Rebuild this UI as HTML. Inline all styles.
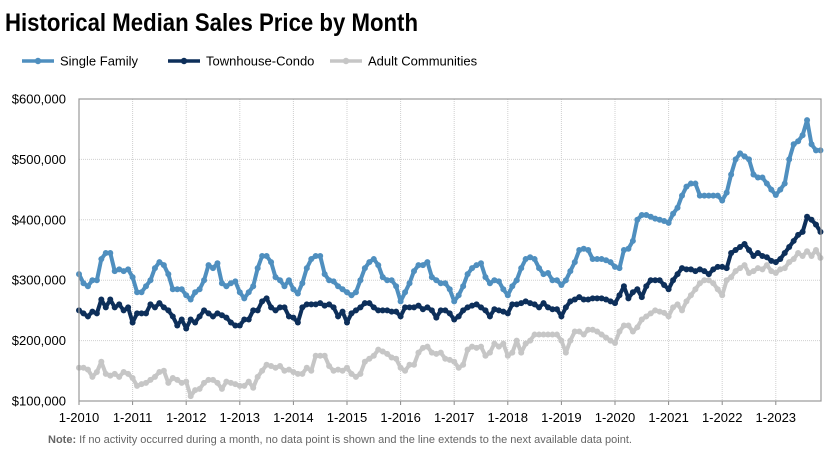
<!DOCTYPE html>
<html><head><meta charset="utf-8">
<style>
body{margin:0;background:#fff;width:838px;height:449px;overflow:hidden;font-family:"Liberation Sans",Arial,sans-serif;}
svg text{font-family:"Liberation Sans",Arial,sans-serif;}
</style></head>
<body>
<svg id="chart" width="838" height="449">
<text x="5" y="31" font-size="25" font-weight="bold" textLength="413" lengthAdjust="spacingAndGlyphs" fill="#000">Historical Median Sales Price by Month</text>
<g id="legend"></g>
<g id="grid"></g>
<g id="series"></g>
<g id="axes"></g>
<text x="48" y="443" font-size="11" fill="#666"><tspan font-weight="bold">Note:</tspan> If no activity occurred during a month, no data point is shown and the line extends to the next available data point.</text>
</svg>
<script>
const seriesNames = ["Single Family","Townhouse-Condo","Adult Communities"];
const seriesColors = ["#4f8fbf","#0d2f5a","#c6c6c6"];
const yTicks = [100000,200000,300000,400000,500000,600000];
const yearLabels = ["1-2010","1-2011","1-2012","1-2013","1-2014","1-2015","1-2016","1-2017","1-2018","1-2019","1-2020","1-2021","1-2022","1-2023"];
const singleFamily = [
310,295,290,300,300,335,345,345,315,318,315,318,
305,280,280,290,300,320,330,325,310,285,285,285,
275,268,280,285,300,325,320,328,295,290,295,298,
280,270,280,290,320,340,340,330,305,300,290,300,
285,278,295,320,335,340,340,310,300,298,290,285,
280,275,280,300,320,330,335,325,305,300,300,290,
265,280,295,315,325,325,330,305,300,295,295,285,
265,275,290,310,320,325,328,305,295,300,298,285,
275,290,300,320,335,338,335,320,310,312,300,300,
292,300,315,330,350,352,350,335,335,335,333,330,
322,320,350,352,365,400,408,408,405,402,400,398,
395,410,420,440,455,460,460,440,440,440,440,440,
432,445,475,500,510,505,500,475,470,470,460,450,
441,450,460,500,525,530,540,565,525,515,515];
const townhouse = [
250,245,240,248,245,268,255,268,255,260,250,255,
230,245,245,245,260,255,262,255,250,240,225,235,
220,235,230,240,250,245,240,245,242,238,230,225,
225,235,235,250,250,265,270,255,250,255,255,240,
238,230,255,260,260,260,262,258,260,255,240,248,
230,245,250,255,262,262,255,250,250,250,248,248,
240,255,255,255,258,252,255,250,238,250,250,245,
235,240,250,255,258,260,255,250,240,252,250,248,
245,260,260,262,265,262,260,255,262,255,252,252,
240,255,265,268,272,268,268,270,270,270,268,265,
262,275,290,270,280,285,272,290,300,300,300,292,
285,300,310,320,318,318,315,318,315,310,318,322,
322,320,345,350,355,360,350,340,345,340,338,332,
330,335,345,355,365,375,380,405,400,392,380];
const adult = [
155,155,152,140,148,165,145,142,145,140,148,145,
138,125,128,130,135,140,148,150,130,138,135,130,
132,108,118,120,130,135,135,130,120,132,130,128,
125,125,132,122,140,150,160,158,155,158,150,152,
148,145,145,155,150,175,175,175,158,150,152,150,
155,145,140,145,165,170,175,185,182,178,172,170,
155,150,160,160,180,188,190,180,178,180,170,168,
165,155,160,185,190,188,190,175,180,195,190,195,
175,180,200,180,195,200,210,210,210,210,210,210,
200,180,200,215,215,210,218,218,215,210,205,200,
196,215,225,225,215,222,235,240,245,250,248,246,
240,255,260,250,265,275,285,295,300,300,295,285,
275,300,305,315,320,325,312,315,320,318,325,315,
312,318,320,330,335,345,340,348,340,350,337];

const NS="http://www.w3.org/2000/svg";
const L=79,R=821,T=99,B=401,YW=53.6;
const xPos=i=>L+i*YW/12;
const yPos=v=>B-(v-100000)*(B-T)/500000;
function mk(tag,attrs,parent){const e=document.createElementNS(NS,tag);for(const k in attrs)e.setAttribute(k,attrs[k]);parent.appendChild(e);return e;}
const grid=document.getElementById('grid'),axes=document.getElementById('axes'),ser=document.getElementById('series'),leg=document.getElementById('legend');
yTicks.forEach(v=>{
  const y=yPos(v);
  const g=mk('line',{x1:L,x2:R,y1:y,y2:y,stroke:'#d0d0d0','stroke-dasharray':'1,1'},grid);
  
  
  const t=mk('text',{x:66,y:y+4.5,'font-size':13,'text-anchor':'end',fill:'#000'},axes);
  t.textContent='$'+v.toLocaleString('en-US');
  
  
});
yearLabels.forEach((lab,i)=>{
  const x=xPos(i*12);
  if(i>0){const g=mk('line',{x1:x,x2:x,y1:T,y2:B,stroke:'#d0d0d0','stroke-dasharray':'1,1'},grid);
  
  }
  const tk=mk('line',{x1:x,x2:x,y1:B,y2:B+4,stroke:'#888'},axes);
  
  
  const t=mk('text',{x:x,y:B+21,'font-size':13,'text-anchor':'middle',fill:'#000'},axes);
  t.textContent=lab;
  
  
});
const fr=mk('rect',{x:L,y:T,width:R-L,height:B-T,fill:'none',stroke:'#999','stroke-width':1.2},axes);


[adult,townhouse,singleFamily].forEach((data,k)=>{
  const idx=2-k,col=seriesColors[idx];
  const g=mk('g',{},ser);
  
  
  const pts=data.map((v,i)=>xPos(i).toFixed(1)+','+yPos(v*1000).toFixed(1)).join(' ');
  const pl=mk('polyline',{points:pts,fill:'none',stroke:col,'stroke-width':4,'stroke-linejoin':'round'},g);
  
  
  data.forEach((v,i)=>{
    const c=mk('circle',{cx:xPos(i),cy:yPos(v*1000),r:3,fill:col},g);
    
    
  });
});
const legX=[22,168,330];
seriesNames.forEach((n,i)=>{
  const g=mk('g',{},leg);
  
  
  mk('line',{x1:legX[i],x2:legX[i]+32,y1:61,y2:61,stroke:seriesColors[i],'stroke-width':3.5},g);
  mk('circle',{cx:legX[i]+16,cy:61,r:3.2,fill:seriesColors[i]},g);
  const t=mk('text',{x:legX[i]+38,y:65.5,'font-size':13,fill:'#000'},g);
  t.textContent=n;
});
</script>
</body></html>
